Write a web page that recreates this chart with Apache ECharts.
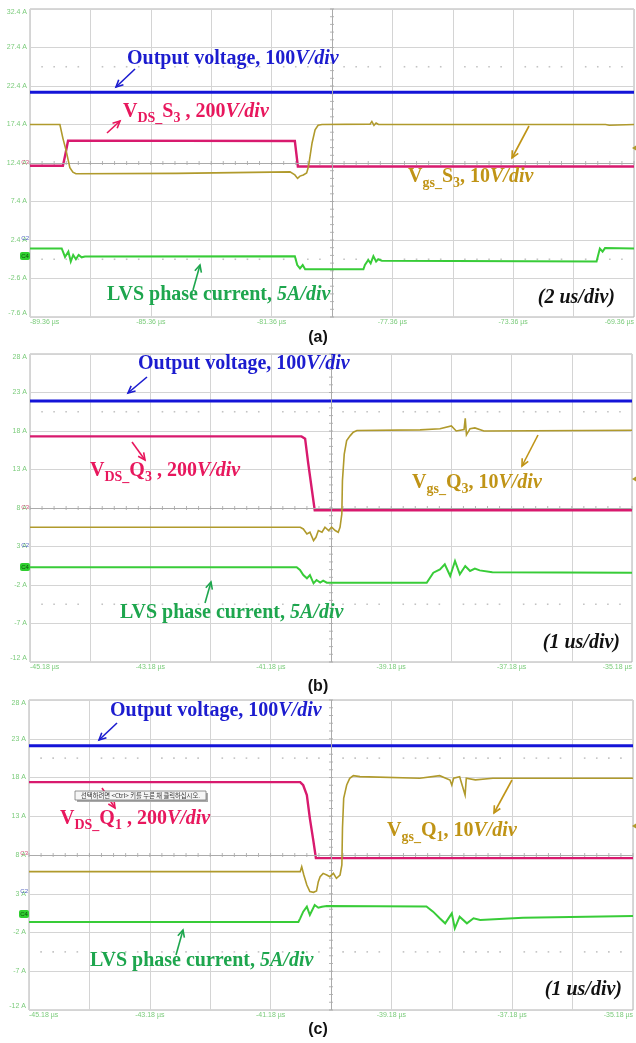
<!DOCTYPE html>
<html>
<head>
<meta charset="utf-8">
<title>Switching waveforms</title>
<script src="https://cdn.jsdelivr.net/npm/echarts@6.0.0/dist/echarts.min.js"></script>
<style>
html,body{margin:0;padding:0;background:#ffffff;}
#chart{width:636px;height:1043px;}
</style>
</head>
<body>
<div id="chart"></div>
<script>
// Screen scale shared by all captures: 10 x 8 divisions, 5 A per vertical division
const DIVS_X = 10, DIVS_Y = 8, UNITS_PER_DIV_Y = 5;

// ---------- (a) S3 switching, 2 us/div ----------
const aTimeStart = -89.36;
const aUsPerDiv = 2;
const aBottom = -7.6;
const aXTicks = ['-89.36 µs', '-85.36 µs', '-81.36 µs', '-77.36 µs', '-73.36 µs', '-69.36 µs'];
const aYTicks = ['32.4 A', '27.4 A', '22.4 A', '17.4 A', '12.4 A', '7.4 A', '2.4 A', '-2.6 A', '-7.6 A'];
const aVout = [[-89.36, 21.6], [-69.36, 21.6]];
const aVdsS3 = [[-89.36, 12.05], [-88.27, 12.05], [-88.19, 13.5], [-88.10, 15.3], [-80.59, 15.25],
  [-80.54, 13.6], [-80.49, 11.95], [-69.36, 11.95]];
const aVgsS3 = [[-89.36, 17.4], [-88.37, 17.4], [-88.27, 15.6], [-88.17, 14.1], [-88.04, 11.8], [-87.94, 11.2],
  [-87.84, 11.0], [-84.5, 11.05], [-80.75, 11.25], [-80.59, 10.85], [-80.50, 10.4], [-80.42, 10.7],
  [-80.31, 10.85], [-80.20, 11.1], [-80.14, 11.9], [-80.02, 15.0], [-79.92, 16.7], [-79.82, 17.3],
  [-79.69, 17.4], [-78.10, 17.45], [-78.04, 17.8], [-77.97, 17.3], [-77.90, 17.6], [-77.82, 17.4],
  [-70.30, 17.4], [-70.25, 17.65], [-70.18, 17.3], [-70.12, 17.5], [-69.36, 17.4]];
const aIphase = [[-89.36, 1.3], [-88.31, 1.3], [-88.20, 0.2], [-88.09, 0.9], [-88.01, -0.4], [-87.93, 0.45],
  [-87.84, -0.1], [-87.75, 0.45], [-87.65, 0.15], [-87.54, 0.25], [-80.59, 0.3], [-80.51, -0.85],
  [-80.42, -1.28], [-80.33, -0.85], [-80.25, -1.4], [-78.32, -1.4], [-78.27, -0.85], [-78.16, -0.2],
  [-78.08, -0.63], [-77.99, 0.3], [-77.90, -0.4], [-77.83, -0.1], [-77.71, -0.28], [-70.60, -0.38],
  [-70.49, 1.3], [-70.40, 0.9], [-70.32, 1.35], [-69.36, 1.3]];

// ---------- (b) Q3 switching, 1 us/div ----------
const bTimeStart = -45.18;
const bUsPerDiv = 1;
const bBottom = -12;
const bXTicks = ['-45.18 µs', '-43.18 µs', '-41.18 µs', '-39.18 µs', '-37.18 µs', '-35.18 µs'];
const bYTicks = ['28 A', '23 A', '18 A', '13 A', '8 A', '3 A', '-2 A', '-7 A', '-12 A'];
const bVout = [[-45.18, 21.9], [-35.18, 21.9]];
const bVdsQ3 = [[-45.18, 17.3], [-40.67, 17.3], [-40.61, 17.0], [-40.56, 13.9], [-40.50, 10.5],
  [-40.45, 7.7], [-35.18, 7.7]];
const bVgsQ3 = [[-45.18, 5.5], [-40.69, 5.5], [-40.64, 5.28], [-40.58, 4.63], [-40.53, 4.85], [-40.47, 3.77],
  [-40.43, 4.2], [-40.39, 5.07], [-40.33, 4.85], [-40.28, 5.5], [-40.22, 5.07], [-40.17, 5.5], [-40.11, 5.07],
  [-40.06, 4.85], [-40.03, 5.5], [-40.0, 7.23], [-39.99, 11.56], [-39.96, 15.0], [-39.92, 16.76],
  [-39.86, 17.4], [-39.81, 17.84], [-39.75, 18.06], [-38.70, 18.15], [-38.37, 18.3], [-38.18, 18.65],
  [-38.10, 18.0], [-37.97, 18.2], [-37.95, 19.65], [-37.93, 17.5], [-37.87, 18.3], [-37.79, 18.4],
  [-37.64, 18.0], [-35.18, 18.1]];
const bIphase = [[-45.18, 0.3], [-40.75, 0.3], [-40.695, -0.05], [-40.64, -0.7], [-40.58, -1.13],
  [-40.53, -0.7], [-40.47, -1.78], [-40.42, -1.35], [-40.36, -1.69], [-40.31, -1.43], [-40.25, -1.7],
  [-38.59, -1.7], [-38.48, -0.4], [-38.37, 0.03], [-38.29, 0.68], [-38.20, -0.83], [-38.12, 1.12],
  [-38.04, -0.61], [-37.95, 0.47], [-37.87, -0.18], [-37.79, 0.12], [-37.71, -0.1], [-37.5, -0.35],
  [-35.18, -0.42]];

// ---------- (c) Q1 switching, 1 us/div ----------
const cTimeStart = -45.18;
const cUsPerDiv = 1;
const cBottom = -12;
const cXTicks = ['-45.18 µs', '-43.18 µs', '-41.18 µs', '-39.18 µs', '-37.18 µs', '-35.18 µs'];
const cYTicks = ['28 A', '23 A', '18 A', '13 A', '8 A', '3 A', '-2 A', '-7 A', '-12 A'];
const cVout = [[-45.18, 22.1], [-35.18, 22.1]];
const cVdsQ1 = [[-45.18, 17.4], [-40.69, 17.4], [-40.64, 17.0], [-40.58, 15.74], [-40.53, 12.73],
  [-40.47, 9.72], [-40.43, 7.6], [-35.18, 7.6]];
const cVgsQ1 = [[-45.18, 5.85], [-40.69, 5.85], [-40.665, 6.49], [-40.63, 5.42], [-40.58, 4.13],
  [-40.53, 3.27], [-40.47, 3.18], [-40.42, 3.35], [-40.39, 4.56], [-40.36, 5.2], [-40.31, 5.63],
  [-40.25, 5.42], [-40.2, 5.2], [-40.14, 5.63], [-40.09, 4.99], [-40.03, 5.42], [-40.0, 6.71],
  [-39.99, 11.44], [-39.97, 15.31], [-39.92, 17.03], [-39.87, 17.89], [-39.81, 18.24], [-39.7, 18.11],
  [-38.71, 17.9], [-38.38, 18.24], [-38.21, 17.68], [-38.18, 17.03], [-38.15, 17.9], [-38.05, 18.1],
  [-37.96, 15.74], [-37.94, 17.9], [-37.79, 17.7], [-37.5, 17.9], [-35.18, 17.9]];
const cIphase = [[-45.18, -0.65], [-40.72, -0.65], [-40.69, -0.17], [-40.64, 0.69], [-40.58, 1.33],
  [-40.53, 0.26], [-40.45, 1.55], [-40.39, 1.2], [-40.33, 1.33], [-40.25, 1.42], [-38.60, 1.35],
  [-38.49, 0.69], [-38.38, -0.17], [-38.29, -0.82], [-38.18, 0.47], [-38.13, -1.46], [-38.05, 0.04],
  [-37.93, -0.82], [-37.82, -0.17], [-37.71, -0.39], [-37.0, -0.1], [-35.18, 0.13]];

// ---------- styling ----------
const TRACE_COLORS = ['#1414d8', '#d81a6e', '#b09a2c', '#38cc38'];
const TRACE_WIDTHS = [3, 2.4, 1.6, 2];
const TEXT_BLUE = '#1c1ccf', TEXT_RED = '#e8175d', TEXT_OLIVE = '#c09416', TEXT_GREEN = '#1ea64e';
const LABEL_GREEN = '#7acb7a';
const SERIF = '"Liberation Serif","Times New Roman",serif';

const panels = [
  { box: { left: 30, top: 9, width: 604, height: 308 }, t0: aTimeStart, usDiv: aUsPerDiv, bottom: aBottom,
    xTicks: aXTicks, yTicks: aYTicks, traces: [aVout, aVdsS3, aVgsS3, aIphase] },
  { box: { left: 30, top: 354, width: 602, height: 308 }, t0: bTimeStart, usDiv: bUsPerDiv, bottom: bBottom,
    xTicks: bXTicks, yTicks: bYTicks, traces: [bVout, bVdsQ3, bVgsQ3, bIphase] },
  { box: { left: 29, top: 700, width: 604, height: 310 }, t0: cTimeStart, usDiv: cUsPerDiv, bottom: cBottom,
    xTicks: cXTicks, yTicks: cYTicks, traces: [cVout, cVdsQ1, cVgsQ1, cIphase] }
];

// screen (time, value) -> graticule divisions centred on the screen
function toDivs(p, pt) {
  return [(pt[0] - p.t0) / p.usDiv - DIVS_X / 2, (pt[1] - p.bottom) / UNITS_PER_DIV_Y - DIVS_Y / 2];
}

const grids = [], xAxes = [], yAxes = [], series = [];
panels.forEach((p, i) => {
  grids.push(Object.assign({}, p.box, { show: true, borderColor: '#b0b0b0', borderWidth: 1,
    containLabel: false, outerBoundsMode: 'none' }));
  xAxes.push({
    gridIndex: i, type: 'value', min: -DIVS_X / 2, max: DIVS_X / 2, interval: 1,
    axisLine: { show: false, onZero: false }, axisTick: { show: false },
    splitLine: { show: true, lineStyle: { color: '#d4d4d4', width: 1 } },
    axisLabel: {
      show: true, fontSize: 7, color: LABEL_GREEN, fontFamily: 'Liberation Sans', margin: 2,
      alignMinLabel: 'left', alignMaxLabel: 'right',
      formatter: v => { const k = Math.round(v + DIVS_X / 2); return k % 2 ? '' : p.xTicks[k / 2]; }
    }
  });
  yAxes.push({
    gridIndex: i, type: 'value', min: -DIVS_Y / 2, max: DIVS_Y / 2, interval: 1,
    axisLine: { show: false, onZero: false }, axisTick: { show: false },
    splitLine: { show: true, lineStyle: { color: '#d4d4d4', width: 1 } },
    axisLabel: {
      show: true, fontSize: 7, color: LABEL_GREEN, fontFamily: 'Liberation Sans', margin: 3,
      verticalAlignMaxLabel: 'top', verticalAlignMinLabel: 'bottom',
      formatter: v => p.yTicks[Math.round(DIVS_Y / 2 - v)]
    }
  });

  // graticule: centre cross with 0.2-div ticks, and two dotted rows
  const hTicks = [], vTicks = [], dots = [];
  for (let k = -25; k <= 25; k++) hTicks.push([k / 5, 0]);
  for (let k = -20; k <= 20; k++) vTicks.push([0, k / 5]);
  for (let k = -25; k <= 25; k++) if (k % 5) { dots.push([k / 5, 2.5]); dots.push([k / 5, -2.5]); }
  series.push({
    type: 'scatter', xAxisIndex: i, yAxisIndex: i, data: hTicks, symbol: 'rect', symbolSize: [1, 4],
    itemStyle: { color: '#a4a4a4' }, silent: true, z: 1,
    markLine: { silent: true, symbol: ['none', 'none'], label: { show: false },
      lineStyle: { color: '#ababab', width: 1, type: 'solid' }, data: [{ xAxis: 0 }, { yAxis: 0 }] }
  });
  series.push({ type: 'scatter', xAxisIndex: i, yAxisIndex: i, data: vTicks, symbol: 'rect',
    symbolSize: [4, 1], itemStyle: { color: '#a4a4a4' }, silent: true, z: 1 });
  series.push({ type: 'scatter', xAxisIndex: i, yAxisIndex: i, data: dots, symbol: 'rect',
    symbolSize: 1.6, itemStyle: { color: '#b4b4b4' }, silent: true, z: 1 });

  p.traces.forEach((tr, j) => {
    series.push({
      type: 'line', xAxisIndex: i, yAxisIndex: i, data: tr.map(pt => toDivs(p, pt)),
      symbol: 'none', showSymbol: false, silent: true, clip: true, z: 3 + j,
      lineStyle: { color: TRACE_COLORS[j], width: TRACE_WIDTHS[j], join: 'miter' }
    });
  });
});

// ---------- annotations ----------
function richFor(color) {
  const base = { fontFamily: SERIF, fontWeight: 'bold', fontSize: 20, lineHeight: 24, fill: color };
  return {
    b: base,
    i: Object.assign({}, base, { fontStyle: 'italic' }),
    s: Object.assign({}, base, { fontSize: 14, height: 11, lineHeight: 11, verticalAlign: 'bottom' })
  };
}
function label(x, y, text, color, align) {
  return { type: 'text', x, y, silent: true, z: 50,
    style: { text, rich: richFor(color), align: align || 'left', verticalAlign: 'middle' } };
}
function arrow(x1, y1, x2, y2, color) {
  const a = Math.atan2(y2 - y1, x2 - x1), L = 7, W = 3.4;
  const bx = x2 - L * Math.cos(a), by = y2 - L * Math.sin(a);
  const px = -Math.sin(a) * W, py = Math.cos(a) * W;
  return [
    { type: 'line', silent: true, z: 50, shape: { x1, y1, x2, y2 }, style: { stroke: color, lineWidth: 1.6 } },
    { type: 'polyline', silent: true, z: 50, shape: { points: [[bx + px, by + py], [x2, y2], [bx - px, by - py]] },
      style: { stroke: color, lineWidth: 1.6, fill: null } }
  ];
}
function channelMarks(left, yC3, yC2, yC4) {
  const f = { fontSize: 6, fontFamily: 'Liberation Sans' };
  return [
    { type: 'text', x: left - 1, y: yC3, silent: true, z: 40,
      style: Object.assign({ text: 'C3', fill: '#d0507a', align: 'right', verticalAlign: 'bottom' }, f) },
    { type: 'text', x: left - 1, y: yC2, silent: true, z: 40,
      style: Object.assign({ text: 'C2', fill: '#5060c0', align: 'right', verticalAlign: 'bottom' }, f) },
    { type: 'rect', silent: true, z: 40, shape: { x: left - 10, y: yC4 - 4, width: 10, height: 8, r: 2 },
      style: { fill: '#2fcf2f' } },
    { type: 'text', x: left - 5, y: yC4, silent: true, z: 41,
      style: Object.assign({ text: 'C4', fill: '#105010', align: 'center', verticalAlign: 'middle' }, f) }
  ];
}
function trigMark(x, y) {
  return { type: 'polygon', silent: true, z: 40, shape: { points: [[x, y], [x + 4, y - 2.5], [x + 4, y + 2.5]] },
    style: { fill: '#b09a2c' } };
}
function caption(y, text) {
  return { type: 'text', x: 318, y, silent: true, z: 50,
    style: { text, fill: '#111', fontFamily: 'Liberation Sans', fontWeight: 'bold', fontSize: 16,
      align: 'center', verticalAlign: 'middle' } };
}

const OUT = '{b|Output voltage, 100}{i|V/div}';
const LVS = '{b|LVS phase current, }{i|5A/div}';
const graphic = [].concat(
  // (a)
  label(127, 59, OUT, TEXT_BLUE), arrow(135, 69, 116, 87, TEXT_BLUE),
  label(123, 112, '{b|V}{s|DS_}{b|S}{s|3}{b| , 200}{i|V/div}', TEXT_RED), arrow(107, 133, 120, 121, TEXT_RED),
  label(408, 177, '{b|V}{s|gs_}{b|S}{s|3}{b|, 10}{i|V/div}', TEXT_OLIVE), arrow(529, 126, 512, 158, TEXT_OLIVE),
  label(107, 295, LVS, TEXT_GREEN), arrow(193, 290, 200, 265, TEXT_GREEN),
  label(615, 298, '{i|(2 us/div)}', '#111', 'right'),
  channelMarks(30, 165, 241, 256), trigMark(632, 148),
  caption(338, '(a)'),
  // (b)
  label(138, 364, OUT, TEXT_BLUE), arrow(147, 377, 128, 393, TEXT_BLUE),
  label(90, 471, '{b|V}{s|DS_}{b|Q}{s|3}{b| , 200}{i|V/div}', TEXT_RED), arrow(132, 442, 145, 460, TEXT_RED),
  label(412, 483, '{b|V}{s|gs_}{b|Q}{s|3}{b|, 10}{i|V/div}', TEXT_OLIVE), arrow(538, 435, 522, 466, TEXT_OLIVE),
  label(120, 613, LVS, TEXT_GREEN), arrow(205, 603, 211, 582, TEXT_GREEN),
  label(620, 643, '{i|(1 us/div)}', '#111', 'right'),
  channelMarks(30, 510, 548, 567), trigMark(632, 479),
  caption(687, '(b)'),
  // (c)
  label(110, 711, OUT, TEXT_BLUE), arrow(117, 723, 99, 740, TEXT_BLUE),
  arrow(102, 788, 115, 808, TEXT_RED),
  label(60, 819, '{b|V}{s|DS_}{b|Q}{s|1}{b| , 200}{i|V/div}', TEXT_RED),
  label(387, 831, '{b|V}{s|gs_}{b|Q}{s|1}{b|, 10}{i|V/div}', TEXT_OLIVE), arrow(512, 780, 494, 813, TEXT_OLIVE),
  label(90, 961, LVS, TEXT_GREEN), arrow(176, 955, 183, 930, TEXT_GREEN),
  label(622, 990, '{i|(1 us/div)}', '#111', 'right'),
  channelMarks(29, 856, 894, 914), trigMark(632, 826),
  caption(1030, '(c)'),
  // hover hint left on the capture
  [
    { type: 'rect', silent: true, z: 60, shape: { x: 77, y: 793, width: 131, height: 9 }, style: { fill: '#a8a8a8' } },
    { type: 'rect', silent: true, z: 61, shape: { x: 75, y: 791, width: 131, height: 9 },
      style: { fill: '#f6f6f6', stroke: '#7a7a7a', lineWidth: 0.8 } },
    { type: 'text', x: 140.5, y: 795.7, silent: true, z: 62,
      style: { text: '선택하려면 <Ctrl> 키를 누른 채 클릭하십시오.', fill: '#333', fontSize: 6.3,
        fontFamily: '"Noto Sans CJK KR",sans-serif', align: 'center', verticalAlign: 'middle' } }
  ]
);

const chart = echarts.init(document.getElementById('chart'), null, { renderer: 'canvas', width: 636, height: 1043 });
chart.setOption({
  animation: false,
  backgroundColor: '#ffffff',
  grid: grids,
  xAxis: xAxes,
  yAxis: yAxes,
  series,
  graphic
});
</script>
</body>
</html>
